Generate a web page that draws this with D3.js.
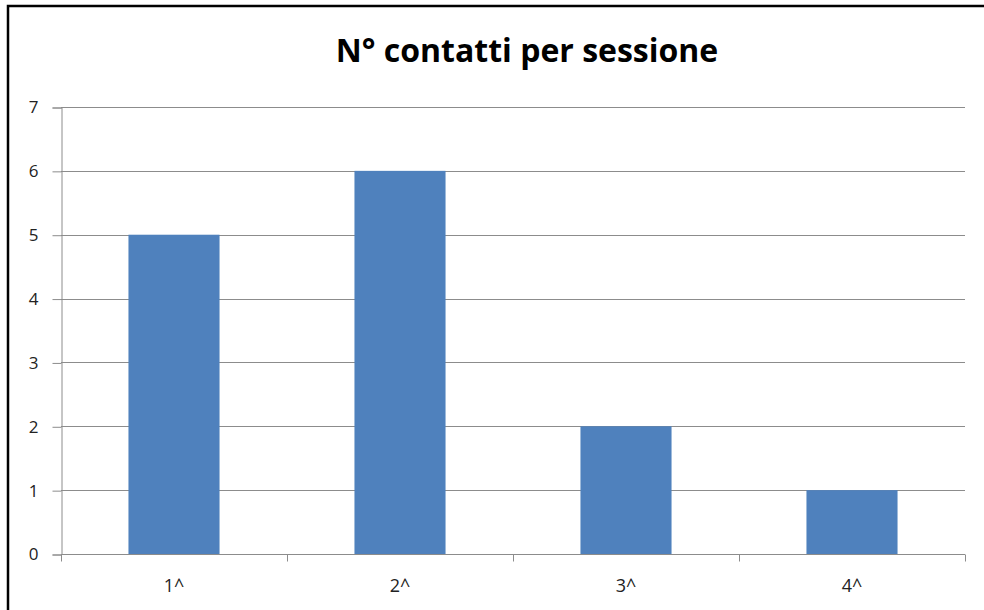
<!DOCTYPE html>
<html>
<head>
<meta charset="utf-8">
<script src="https://cdn.jsdelivr.net/npm/d3@7"></script>
<style>
  html, body { margin: 0; padding: 0; background: #fff; }
  svg { display: block; }
</style>
</head>
<body>
<svg id="chart" width="984" height="610"></svg>
<script>
// Sessions and number of contacts recorded in each
const categories = ["1^", "2^", "3^", "4^"];
const contacts = [5, 6, 2, 1];
const yTicks = [0, 1, 2, 3, 4, 5, 6, 7];
const chartTitle = "N° contatti per sessione";

const svg = d3.select("#chart");
const W = 984, H = 610;
const margin = { left: 61, right: 19, top: 107, bottom: 56 };
const font = "'Open Sans', 'Liberation Sans', sans-serif";

// Outer frame (extends past the right and bottom edges)
svg.append("rect")
  .attr("x", 8).attr("y", 6)
  .attr("width", W + 20).attr("height", H + 20)
  .attr("fill", "#fff")
  .attr("stroke", "#000")
  .attr("stroke-width", 2.5);

const x = d3.scaleBand()
  .domain(categories)
  .range([margin.left, W - margin.right])
  .paddingInner(0.597)
  .paddingOuter(0.2985);

const y = d3.scaleLinear()
  .domain([0, 7])
  .range([H - margin.bottom, margin.top]);

// Horizontal gridlines
svg.append("g")
  .selectAll("line")
  .data(yTicks.filter(d => d > 0))
  .join("line")
  .attr("x1", margin.left).attr("x2", W - margin.right)
  .attr("y1", d => Math.round(y(d)) + 0.5).attr("y2", d => Math.round(y(d)) + 0.5)
  .attr("stroke", "#8c8c8c").attr("stroke-width", 1);

// Bars
svg.append("g")
  .selectAll("rect")
  .data(categories.map((c, i) => ({ c, v: contacts[i] })))
  .join("rect")
  .attr("x", d => x(d.c))
  .attr("width", x.bandwidth())
  .attr("y", d => y(d.v))
  .attr("height", d => y(0) - y(d.v))
  .attr("fill", "#4f81bd");

// Y axis
const yAxis = d3.axisLeft(y)
  .tickValues(yTicks)
  .tickFormat(d3.format("d"))
  .tickSize(9)
  .tickPadding(14);
const gy = svg.append("g")
  .attr("transform", `translate(${margin.left + 0.5},0.5)`)
  .call(yAxis)
  .attr("font-family", font)
  .attr("font-size", 17);
gy.selectAll("path, line").attr("stroke", "#8c8c8c");
gy.selectAll("text").attr("fill", "#222");

// X axis with ticks at category boundaries
const gx = svg.append("g")
  .attr("transform", `translate(0,${Math.round(y(0)) + 0.5})`);
gx.append("line")
  .attr("x1", margin.left).attr("x2", W - margin.right)
  .attr("stroke", "#8c8c8c");
const step = x.step();
const bounds = d3.range(categories.length + 1).map(i => margin.left + i * step);
gx.selectAll("line.tick")
  .data(bounds)
  .join("line")
  .attr("class", "tick")
  .attr("x1", d => Math.round(d) + 0.5).attr("x2", d => Math.round(d) + 0.5)
  .attr("y1", 0).attr("y2", 7)
  .attr("stroke", "#8c8c8c");
gx.selectAll("text")
  .data(categories)
  .join("text")
  .attr("x", d => x(d) + x.bandwidth() / 2)
  .attr("y", 37)
  .attr("text-anchor", "middle")
  .attr("font-family", font)
  .attr("font-size", 18)
  .attr("fill", "#222")
  .text(d => d);

// Title
svg.append("text")
  .attr("x", 527).attr("y", 62)
  .attr("text-anchor", "middle")
  .attr("font-family", font)
  .attr("font-weight", "bold")
  .attr("font-size", 32)
  .attr("fill", "#000")
  .text(chartTitle);
</script>
</body>
</html>
